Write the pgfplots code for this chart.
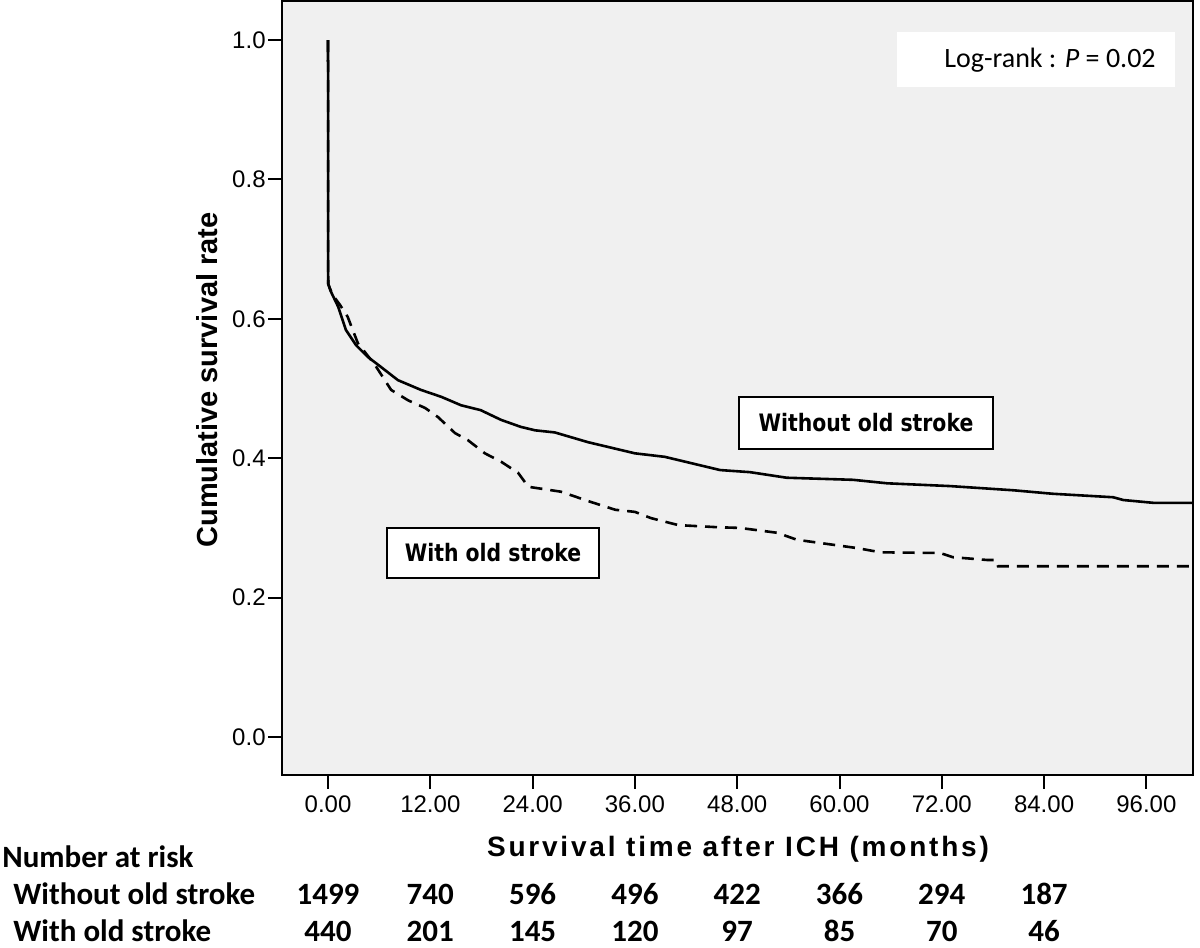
\documentclass[border=0pt]{standalone}
\usepackage{pgfplots}
\pgfplotsset{compat=1.18}
\usepackage{fontspec}
\setmainfont{Liberation Sans}
\newfontfamily\calfont{Carlito}
\newfontfamily\xlabfont{Liberation Sans}[LetterSpace=10]
\newfontfamily\boxfont{DejaVu Sans}[FakeStretch=0.85]
\definecolor{bg}{RGB}{240,240,240}
\begin{document}
\begin{tikzpicture}[x=1pt,y=1pt]
\path[use as bounding box] (0,0) rectangle (600,474);
\begin{axis}[
  at={(141pt,86.5pt)}, anchor=south west,
  width=455.5pt, height=387pt, scale only axis,
  xmin=-5.4, xmax=101.47, ymin=-0.0545, ymax=1.056,
  axis background/.style={fill=bg},
  axis line style={line width=1pt},
  tick align=outside, tick pos=left,
  major tick length=7pt,
  tick style={black, line width=1pt},
  xtick={0,12,24,36,48,60,72,84,96},
  xticklabels={0.00,12.00,24.00,36.00,48.00,60.00,72.00,84.00,96.00},
  ytick={0,0.2,0.4,0.6,0.8,1},
  yticklabels={0.0,0.2,0.4,0.6,0.8,1.0},
  ticklabel style={font=\fontsize{12}{14}\selectfont},
  yticklabel style={inner xsep=1pt},
  xticklabel style={inner ysep=3pt},
]
% Without old stroke
\addplot[black, line width=1.3pt] table {
x y
0 1.0
0.02 0.65
0.3 0.64
1.2 0.617
2.1 0.584
3.3 0.562
4.7 0.545
6.2 0.531
8.2 0.512
10.9 0.498
13.3 0.488
15.6 0.476
17.9 0.469
20.3 0.455
22.6 0.445
24.3 0.440
26.6 0.437
30.5 0.423
36.0 0.407
39.5 0.402
43.6 0.390
46.0 0.383
49.5 0.380
53.8 0.372
61.6 0.369
65.6 0.364
73.0 0.360
80.4 0.354
85.0 0.349
92.1 0.344
93.3 0.340
96.8 0.336
102 0.336
};
% With old stroke
\addplot[black, line width=1.3pt, dash pattern=on 6pt off 4pt] table {
x y
0 1.0
0.02 0.65
0.5 0.635
1.4 0.620
2.3 0.603
3.5 0.565
5.5 0.534
7.4 0.498
9.4 0.483
11.4 0.472
12.9 0.459
14.9 0.436
16.4 0.426
18.4 0.407
20.3 0.395
22.3 0.379
23.5 0.359
27.3 0.352
30.9 0.337
33.7 0.326
36.0 0.323
37.9 0.314
41.1 0.304
45.7 0.301
48.3 0.300
52.7 0.293
55.0 0.283
62.1 0.271
64.8 0.265
71.8 0.264
73.3 0.258
77.3 0.254
78.4 0.254
78.6 0.245
102 0.245
};
\end{axis}
% annotation boxes
\fill[white] (448.5,430.5) rectangle (587.5,458);
\node at (525,444) {\calfont\fontsize{14}{16}\selectfont Log-rank : \textit{P} = 0.02};
\draw[line width=0.9pt, fill=white] (369.5,249.5) rectangle (496.5,275.5);
\node at (433,262.5) {\boxfont\bfseries\fontsize{12}{14}\selectfont Without old stroke};
\draw[line width=0.9pt, fill=white] (193.5,185) rectangle (299.5,210);
\node at (246.5,197.5) {\boxfont\bfseries\fontsize{12}{14}\selectfont With old stroke};
% axis titles
\node at (369,49.5) {\xlabfont\bfseries\fontsize{14}{16}\selectfont Survival time after ICH (months)};
\node[rotate=90] at (103.5,284) {\bfseries\fontsize{14.5}{17}\selectfont Cumulative survival rate};
% number at risk
\node[anchor=base west, inner sep=0] at (1,40) {\calfont\bfseries\fontsize{15.5}{18}\selectfont Number at risk};
\node[anchor=base west, inner sep=0] at (6.5,21.5) {\calfont\bfseries\fontsize{15.5}{18}\selectfont Without old stroke};
\node[anchor=base west, inner sep=0] at (6.5,3) {\calfont\bfseries\fontsize{15.5}{18}\selectfont With old stroke};
\foreach \v [count=\i from 0] in {1499,740,596,496,422,366,294,187}
  \node[anchor=base, inner sep=0] at ({164+\i*51.15},21.5) {\calfont\bfseries\fontsize{15.5}{18}\selectfont \v};
\foreach \v [count=\i from 0] in {440,201,145,120,97,85,70,46}
  \node[anchor=base, inner sep=0] at ({164+\i*51.15},3) {\calfont\bfseries\fontsize{15.5}{18}\selectfont \v};
\end{tikzpicture}
\end{document}
